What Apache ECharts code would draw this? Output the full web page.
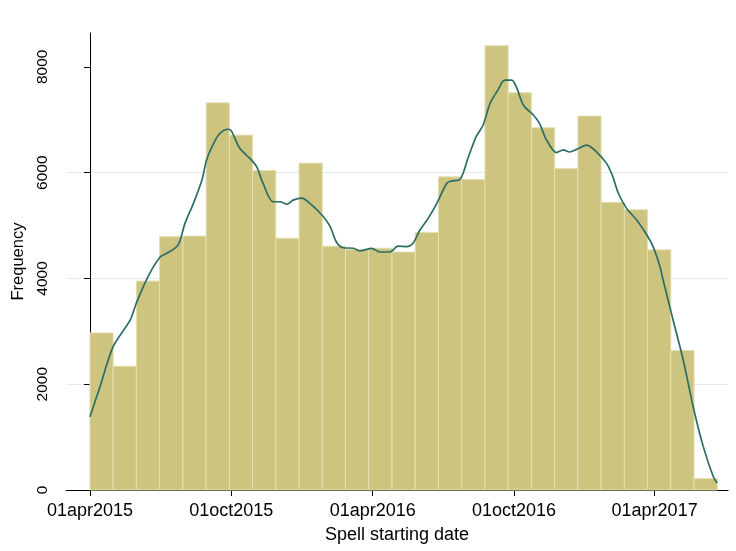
<!DOCTYPE html>
<html>
<head>
<meta charset="utf-8">
<title>Spell starting date</title>
<script src="https://cdn.jsdelivr.net/npm/echarts@6/dist/echarts.min.js"></script>
<style>
  html, body { margin: 0; padding: 0; background: #fff; }
  #chart { width: 736px; height: 551px; }
</style>
</head>
<body>
<div id="chart"></div>
<script>
// histogram bins (27 of them), first bin starts 01apr2015
const binStart = '2015-04-01';
const binWidthDays = 30.08;
const binCounts = [2970, 2340, 3950, 4790, 4800, 7320, 6710, 6040, 4760, 6180,
  4610, 4550, 4570, 4500, 4870, 5920, 5870, 8400, 7510, 6850,
  6080, 7070, 5440, 5300, 4540, 2640, 215];

// kernel density overlay (scaled to frequency), x = days after 01apr2015
const curveDays = [0, 13, 30, 52, 60, 75, 91, 99, 114, 123,
  134, 145, 151, 160, 168, 179, 183, 194, 209, 216,
  224, 237, 246, 255, 263, 274, 287, 302, 311, 319,
  328, 341, 349, 365, 375, 388, 399, 410, 418, 427,
  438, 449, 462, 468, 479, 490, 500, 509, 518, 528,
  537, 546, 552, 561, 574, 582, 591, 604, 613, 621,
  630, 643, 656, 669, 677, 684, 695, 708, 721, 729,
  738, 742, 755, 768, 781, 794, 807, 812];
const curveValues = [1385, 1950, 2710, 3210, 3530, 4030, 4410, 4470, 4630, 5040,
  5420, 5860, 6240, 6550, 6740, 6820, 6790, 6460, 6240, 6110,
  5800, 5450, 5450, 5400, 5480, 5520, 5390, 5170, 4980, 4690,
  4580, 4570, 4520, 4570, 4500, 4500, 4610, 4600, 4660, 4910,
  5140, 5420, 5800, 5840, 5870, 6300, 6680, 6900, 7310, 7560,
  7750, 7750, 7620, 7280, 7090, 6930, 6620, 6380, 6430, 6390,
  6440, 6520, 6390, 6170, 5920, 5610, 5320, 5100, 4820, 4600,
  4220, 3970, 3210, 2460, 1570, 820, 250, 130];

// axis ticks
const xTickDates = ['2015-04-01', '2015-10-01', '2016-04-01', '2016-10-01', '2017-04-01'];
const yTicks = [0, 2000, 4000, 6000, 8000];

const MONTHS = ['jan', 'feb', 'mar', 'apr', 'may', 'jun', 'jul', 'aug', 'sep', 'oct', 'nov', 'dec'];
const DAY_MS = 86400000;
const ORIGIN = Date.UTC(2015, 3, 1);

//'YYYY-MM-DD' -> days after 01apr2015
function dayOf(str) {
  let p = str.split('-').map(Number);
  return Math.round((Date.UTC(p[0], p[1] - 1, p[2]) - ORIGIN) / DAY_MS);
}
//days -> stata style 01apr2015
function stataDate(day) {
  let d = new Date(ORIGIN + Math.round(day) * DAY_MS);
  let dd = String(d.getUTCDate()).padStart(2, '0');
  return dd + MONTHS[d.getUTCMonth()] + d.getUTCFullYear();
}

const start0 = dayOf(binStart);
const barData = binCounts.map((c, i) => [start0 + i * binWidthDays, start0 + (i + 1) * binWidthDays, c]);
const curveData = curveDays.map((d, i) => [d, curveValues[i]]);
const xTicks = xTickDates.map(dayOf);

const font = "'Liberation Sans', Arial, sans-serif";

const myChart = echarts.init(document.getElementById('chart'));
myChart.setOption({
  backgroundColor: '#fff',
  animation: false,
  grid: { left: 66, right: 8, top: 33, bottom: 61 },
  xAxis: {
    type: 'value',
    min: dayOf('2015-03-01'),
    max: 826,
    name: 'Spell starting date',
    nameLocation: 'middle',
    nameGap: 36,
    nameTextStyle: { color: '#000', fontSize: 18, fontFamily: font },
    axisLine: { show: true, onZero: false, lineStyle: { color: '#000', width: 1 } },
    axisTick: { show: true, length: 6, customValues: xTicks, lineStyle: { color: '#000' } },
    axisLabel: {
      customValues: xTicks,
      color: '#000', fontSize: 18, fontFamily: font, margin: 12,
      formatter: (v) => stataDate(v),
    },
    splitLine: { show: false },
  },
  yAxis: {
    type: 'value',
    min: 0,
    max: 8640,
    name: 'Frequency',
    nameLocation: 'middle',
    nameRotate: 90,
    nameGap: 38,
    nameTextStyle: { color: '#000', fontSize: 16.5, fontFamily: font },
    axisLine: { show: true, lineStyle: { color: '#000', width: 1 } },
    axisTick: { show: true, length: 6, customValues: yTicks, lineStyle: { color: '#000' } },
    axisLabel: {
      customValues: yTicks,
      rotate: 90,
      color: '#000', fontSize: 15.5, fontFamily: font, margin: 15,
      formatter: (v) => String(v),
    },
    splitLine: {
      show: true,
      showMinLine: false,
      showMaxLine: false,
      lineStyle: { color: '#e4ecf0', width: 1 },
    },
  },
  series: [
    {
      // histogram bars
      type: 'custom',
      data: barData,
      encode: { x: [0, 1], y: 2 },
      renderItem: function (params, api) {
        let p0 = api.coord([api.value(0), api.value(2)]);
        let p1 = api.coord([api.value(1), 0]);
        return {
          type: 'rect',
          shape: { x: p0[0], y: p0[1], width: p1[0] - p0[0], height: p1[1] - p0[1] },
          style: { fill: '#ccc47f', stroke: '#e6e0b2', lineWidth: 1 },
        };
      },
      z: 2,
    },
    {
      // kernel density line
      type: 'line',
      data: curveData,
      smooth: 0.3,
      symbol: 'none',
      lineStyle: { color: '#2c6d66', width: 1.7 },
      z: 3,
    },
  ],
});
window.addEventListener('resize', () => {
  myChart.resize();
});
</script>
</body>
</html>
